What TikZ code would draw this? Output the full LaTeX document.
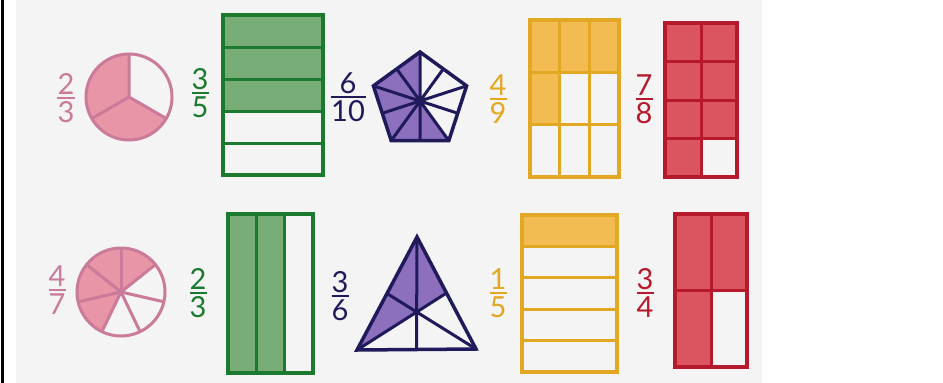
\documentclass[tikz,border=0pt]{standalone}
\usepackage{fontspec}
\setmainfont{Lato}
\usetikzlibrary{calc}
\definecolor{pinkline}{HTML}{C97B99}
\definecolor{pinkfill}{HTML}{E895A8}
\definecolor{greenline}{HTML}{1B7A2D}
\definecolor{greenfill}{HTML}{78AD78}
\definecolor{navyline}{HTML}{1F1A5A}
\definecolor{navyfill}{HTML}{8C70BD}
\definecolor{orangeline}{HTML}{E2A824}
\definecolor{orangefill}{HTML}{F3BC52}
\definecolor{redline}{HTML}{B5192B}
\definecolor{redfill}{HTML}{DA5560}
\definecolor{paper}{HTML}{F4F4F4}
\tikzset{
  digit/.style={inner sep=0pt, font=\fontsize{29}{30}\selectfont},
  outline/.style={line width=3.5pt, line join=miter},
  inner/.style={line width=3pt},
}
\newcommand{\fracnode}[7]{%
  \node[digit, text=#6, anchor=base] (#1n) at (#2,#3+3.5) {#4};
  \node[digit, text=#6, anchor=base] (#1d) at (#2,#3-24.5) {#5};
  \draw[#6, line width=2pt] (#2-#7/2,#3) -- (#2+#7/2,#3);}
\begin{document}
\begin{tikzpicture}[x=1pt,y=1pt]
\useasboundingbox (0,0) rectangle (943,-383);
\fill[white] (0,0) rectangle (943,-383);
\fill[paper] (16,0) rectangle (762,-383);
\fill[black] (1,0) rectangle (4,-383);

% ---------- fractions ----------
\fracnode{fa}{66}{-97.5}{2}{3}{pinkline}{18}
\fracnode{fb}{200}{-93}{3}{5}{greenline}{17}
\fracnode{fc}{348}{-97}{6}{10}{navyline}{35}
\fracnode{fd}{498}{-99}{4}{9}{orangeline}{17}
\fracnode{fe}{644}{-99}{7}{8}{redline}{17}
\fracnode{ff}{57}{-289.5}{4}{7}{pinkline}{17}
\fracnode{fg}{198}{-293}{2}{3}{greenline}{17}
\fracnode{fh}{340}{-296}{3}{6}{navyline}{17}
\fracnode{fi}{498}{-293}{1}{5}{orangeline}{17}
\fracnode{fj}{645}{-293}{3}{4}{redline}{17}

% ---------- circle 2/3 ----------
\coordinate (c1) at (129,-97);
\fill[pinkfill] (c1) -- ++(90:43) arc[start angle=90,end angle=330,radius=43] -- cycle;
\draw[pinkline, inner] (c1) -- ++(90:43) (c1) -- ++(210:43) (c1) -- ++(330:43);
\draw[pinkline, inner] (c1) circle[radius=43];

% ---------- circle 4/7 ----------
\coordinate (c2) at (121,-292);
\fill[pinkfill] (c2) -- ++(38.57:44) arc[start angle=38.57,end angle=244.29,radius=44] -- cycle;
\foreach \k in {0,...,6}{
  \draw[pinkline, inner] (c2) -- ++({90-\k*360/7}:44);
}
\draw[pinkline, inner] (c2) circle[radius=44];

% ---------- green 3/5 ----------
\fill[greenfill] (223,-15) rectangle (323,-111);
\foreach \y in {-47,-79,-111,-143}{
  \draw[greenline, inner] (223,\y) -- (323,\y);
}
\draw[greenline, outline] (223,-15) rectangle (323,-175);

% ---------- green 2/3 ----------
\fill[greenfill] (228,-214) rectangle (284.7,-373);
\draw[greenline, inner] (256.3,-214) -- (256.3,-373) (284.7,-214) -- (284.7,-373);
\draw[greenline, outline] (228,-214) rectangle (313,-373);

% ---------- pentagon 6/10 ----------
\coordinate (pc) at (420,-101);
\foreach \i/\a in {0/90,1/162,2/234,3/306,4/18}{
  \coordinate (pv\i) at ($(pc)+(\a:49)$);
}
\foreach \i/\j in {0/1,1/2,2/3,3/4,4/0}{
  \coordinate (pm\i) at ($(pv\i)!0.5!(pv\j)$);
}
\fill[navyfill] (pc) -- (pv0) -- (pv1) -- (pv2) -- (pv3) -- cycle;
\foreach \i in {0,...,4}{
  \draw[navyline, inner] (pc) -- (pv\i) (pc) -- (pm\i);
}
\draw[navyline, outline] (pv0) -- (pv1) -- (pv2) -- (pv3) -- (pv4) -- cycle;

% ---------- triangle 3/6 ----------
\coordinate (ta) at (417,-237);
\coordinate (tl) at (357,-350);
\coordinate (tr) at (476,-349);
\coordinate (mb) at ($(tl)!0.5!(tr)$);
\coordinate (ml) at ($(ta)!0.5!(tl)$);
\coordinate (mr) at ($(ta)!0.5!(tr)$);
\coordinate (tg) at ($(ta)!2/3!(mb)$);
\fill[navyfill] (ta) -- (ml) -- (tl) -- (tg) -- (mr) -- cycle;
\draw[navyline, inner] (ta) -- (mb) (tl) -- (mr) (tr) -- (ml);
\draw[navyline, outline] (ta) -- (tl) -- (tr) -- cycle;

% ---------- orange 4/9 ----------
\fill[orangefill] (530,-20) rectangle (619,-72.3);
\fill[orangefill] (530,-72.3) rectangle (559.7,-124.7);
\draw[orangeline, inner] (559.7,-20) -- (559.7,-177) (589.3,-20) -- (589.3,-177)
  (530,-72.3) -- (619,-72.3) (530,-124.7) -- (619,-124.7);
\draw[orangeline, outline] (530,-20) rectangle (619,-177);

% ---------- orange 1/5 ----------
\fill[orangefill] (522,-215) rectangle (617,-246.4);
\foreach \y in {-246.4,-277.8,-309.2,-340.6}{
  \draw[orangeline, inner] (522,\y) -- (617,\y);
}
\draw[orangeline, outline] (522,-215) rectangle (617,-372);

% ---------- red 7/8 ----------
\fill[redfill] (665,-23) rectangle (737,-138.5);
\fill[redfill] (665,-138.5) rectangle (701,-177);
\draw[redline, inner] (701,-23) -- (701,-177)
  (665,-61.5) -- (737,-61.5) (665,-100) -- (737,-100) (665,-138.5) -- (737,-138.5);
\draw[redline, outline] (665,-23) rectangle (737,-177);

% ---------- red 3/4 ----------
\fill[redfill] (675,-214) rectangle (747,-290.5);
\fill[redfill] (675,-290.5) rectangle (711,-367);
\draw[redline, inner] (711,-214) -- (711,-367) (675,-290.5) -- (747,-290.5);
\draw[redline, outline] (675,-214) rectangle (747,-367);
\end{tikzpicture}
\end{document}
